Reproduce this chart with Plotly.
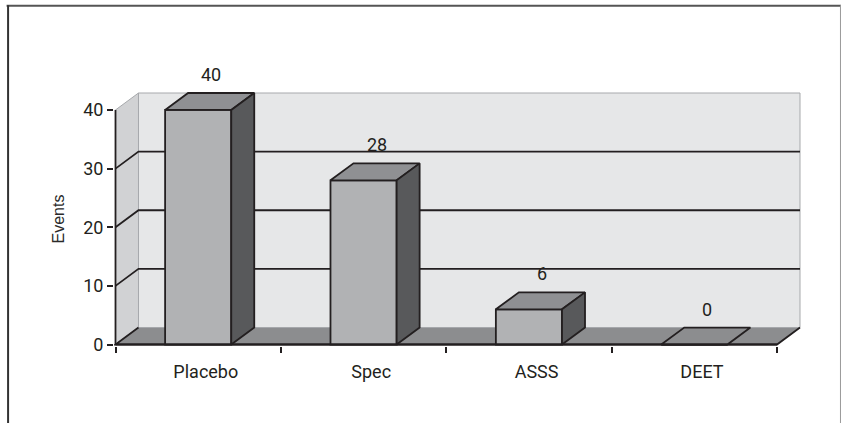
import plotly.graph_objects as go

# ---------------- data ----------------
categories = ["Placebo", "Spec", "ASSS", "DEET"]
events = [40, 28, 6, 0]
y_ticks = [0, 10, 20, 30, 40]
grid_levels = [10, 20, 30]
y_title = "Events"

# ---------------- style / geometry ----------------
W, H = 841, 423
PX_CAT = 165.5          # px per category on the front plane
PX_UNIT = 5.875         # px per event unit
DX = 23 / PX_CAT        # depth offset in x (data units)
DY = 17 / PX_UNIT       # depth offset in y (data units)
BAR_W = 0.4
YMAX = max(y_ticks)

left_px, right_px, top_px, bottom_px = 113.5, 801.0, 92.0, 346.5
front_left_px, back_right_px, back_top_px, front_bottom_px = 115.0, 800.0, 93.0, 345.0

n = len(categories)
XA, XB = -0.5, n - 0.5
x_range = [XA - (front_left_px - left_px) / PX_CAT, XB + DX + (right_px - back_right_px) / PX_CAT]
y_range = [-(bottom_px - front_bottom_px) / PX_UNIT, YMAX + DY + (back_top_px - top_px) / PX_UNIT]

NARROW = "Roboto, Liberation Sans Narrow, sans-serif"
REG = "Liberation Sans, Arial, sans-serif"
INK = "#231f20"
WALL_EDGE = "#a7a9ac"
BACK_WALL = "#e6e7e8"
SIDE_WALL = "#d1d2d4"
FLOOR = "#8c8d8f"
BAR_FRONT = "#b1b2b4"
BAR_TOP = "#8f9093"
BAR_SIDE = "#58595b"
LW = 1.8


def path(pts, close=True):
    s = "M " + " L ".join(f"{x},{y}" for x, y in pts)
    return s + (" Z" if close else "")


fig = go.Figure()
shapes = []

# back wall
shapes.append(dict(type="path", xref="x", yref="y", layer="below",
                   path=path([(XA + DX, DY), (XB + DX, DY), (XB + DX, YMAX + DY), (XA + DX, YMAX + DY)]),
                   fillcolor=BACK_WALL, line=dict(color=WALL_EDGE, width=1)))
# left wall
shapes.append(dict(type="path", xref="x", yref="y", layer="below",
                   path=path([(XA, 0), (XA, YMAX), (XA + DX, YMAX + DY), (XA + DX, DY)]),
                   fillcolor=SIDE_WALL, line=dict(color=WALL_EDGE, width=1)))
# floor
shapes.append(dict(type="path", xref="x", yref="y", layer="below",
                   path=path([(XA, 0), (XB, 0), (XB + DX, DY), (XA + DX, DY)]),
                   fillcolor=FLOOR, line=dict(color=WALL_EDGE, width=1)))
# floor dark edges (left, front, right)
shapes.append(dict(type="path", xref="x", yref="y", layer="below",
                   path=path([(XA + DX, DY), (XA, 0), (XB, 0), (XB + DX, DY)], close=False),
                   line=dict(color=INK, width=LW)))
# gridlines on side and back walls
for v in grid_levels:
    shapes.append(dict(type="path", xref="x", yref="y", layer="below",
                       path=path([(XA, v), (XA + DX, v + DY), (XB + DX, v + DY)], close=False),
                       line=dict(color=INK, width=LW)))

# outer frame (paper coordinates)
def px_x(p):
    return (p - left_px) / (right_px - left_px)


def px_y(p):
    return (bottom_px - p) / (bottom_px - top_px)


shapes.append(dict(type="line", xref="paper", yref="paper", layer="above",
                   x0=px_x(6), x1=px_x(841), y0=px_y(5.5), y1=px_y(5.5),
                   line=dict(color="#555555", width=2)))
shapes.append(dict(type="line", xref="paper", yref="paper", layer="above",
                   x0=px_x(7.5), x1=px_x(7.5), y0=px_y(5), y1=px_y(424),
                   line=dict(color="#333333", width=2)))
shapes.append(dict(type="line", xref="paper", yref="paper", layer="above",
                   x0=px_x(840.5), x1=px_x(840.5), y0=px_y(5), y1=px_y(424),
                   line=dict(color="#9a9a9a", width=1)))

# bar front faces
xs = list(range(n))
fig.add_trace(go.Bar(x=xs, y=events, width=BAR_W, marker=dict(color=BAR_FRONT, line=dict(color=INK, width=LW)),
                     hoverinfo="skip", showlegend=False))

# bar tops and sides
for i, v in enumerate(events):
    l, r = i - BAR_W / 2, i + BAR_W / 2
    top = [(l, v), (r, v), (r + DX, v + DY), (l + DX, v + DY), (l, v)]
    fig.add_trace(go.Scatter(x=[p[0] for p in top], y=[p[1] for p in top], mode="lines",
                             fill="toself", fillcolor=BAR_TOP if v > 0 else FLOOR,
                             line=dict(color=INK, width=LW), hoverinfo="skip", showlegend=False))
    if v > 0:
        side = [(r, 0), (r + DX, DY), (r + DX, v + DY), (r, v), (r, 0)]
        fig.add_trace(go.Scatter(x=[p[0] for p in side], y=[p[1] for p in side], mode="lines",
                                 fill="toself", fillcolor=BAR_SIDE,
                                 line=dict(color=INK, width=LW), hoverinfo="skip", showlegend=False))

# axis lines
fig.add_trace(go.Scatter(x=[XA, XA], y=[0, YMAX], mode="lines", line=dict(color=INK, width=LW),
                         hoverinfo="skip", showlegend=False))
fig.add_trace(go.Scatter(x=[XA, XB], y=[0, 0], mode="lines", line=dict(color=INK, width=LW),
                         xaxis="x2", hoverinfo="skip", showlegend=False))

# value labels
annotations = []
for i, v in enumerate(events):
    annotations.append(dict(x=i + DX / 2 + 0.01, y=v + DY, xref="x", yref="y", text=str(v),
                            showarrow=False, yanchor="bottom", yshift=6,
                            font=dict(family=NARROW, size=18, color=INK)))

fig.update_layout(
    width=W, height=H,
    margin=dict(l=left_px, r=W - right_px, t=top_px, b=H - bottom_px, pad=0),
    paper_bgcolor="white", plot_bgcolor="white",
    shapes=shapes, annotations=annotations, showlegend=False,
    xaxis=dict(range=x_range, tickmode="array", tickvals=[i + 0.046 for i in xs], ticktext=categories,
               ticks="outside", ticklen=9, tickcolor="rgba(0,0,0,0)", showgrid=False, zeroline=False,
               showline=False, tickfont=dict(family=NARROW, size=18, color=INK), fixedrange=True),
    xaxis2=dict(range=x_range, overlaying="x", anchor="y", side="bottom", tickmode="array",
                tickvals=[XA + k for k in range(n + 1)], showticklabels=False,
                ticks="outside", ticklen=6, tickwidth=1.5, tickcolor=INK,
                showgrid=False, zeroline=False, showline=False, fixedrange=True),
    yaxis=dict(range=y_range, tickmode="array", tickvals=y_ticks, ticks="outside", ticklen=6,
               tickwidth=1.5, tickcolor=INK, showgrid=False, zeroline=False, showline=False,
               tickfont=dict(family=NARROW, size=18, color=INK),
               title=dict(text=y_title, font=dict(family=REG, size=16, color="#2a2a2a"), standoff=14),
               fixedrange=True),
)

fig.write_html("out.html")
